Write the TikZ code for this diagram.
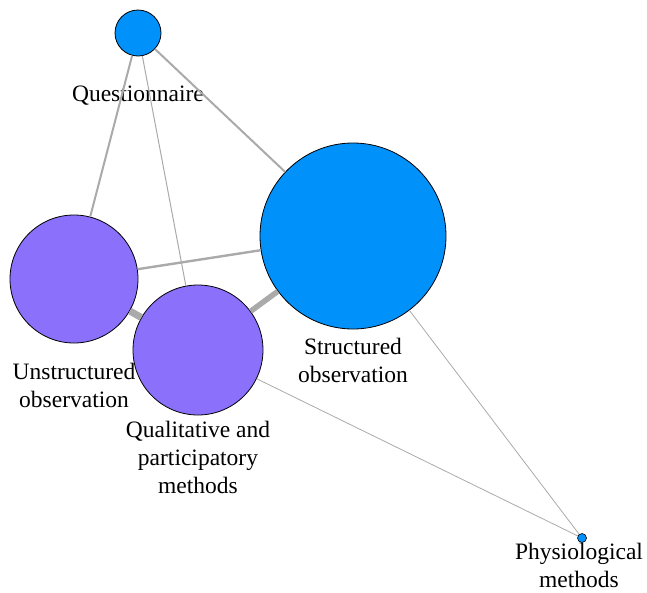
\documentclass[tikz,border=0pt]{standalone}
\usepackage{fontspec}
\setmainfont{Liberation Serif}
\usetikzlibrary{positioning}

\definecolor{blueNode}{RGB}{0,145,250}
\definecolor{purpleNode}{RGB}{138,112,250}
\definecolor{edgeGray}{RGB}{170,170,170}

\tikzstyle{blue} = [circle, draw=black, fill=blueNode, inner sep=0pt, line width=0.8pt]
\tikzstyle{purple} = [circle, draw=black, fill=purpleNode, inner sep=0pt, line width=0.8pt]
\tikzstyle{lbl} = [align=center, font=\fontsize{23.5}{28}\selectfont, inner sep=0pt, text=black]

\begin{document}
\begin{tikzpicture}[x=1pt,y=-1pt,node distance=63pt,edgeGray]
\useasboundingbox (0,0) rectangle (647,592);

\node[blue, minimum size=46pt] (quest) at (138,33) {};
\node[blue, minimum size=186pt] (struct) at (353,236) {};
\node[purple, minimum size=128pt] (unstruct) at (74,279) {};
\node[purple, minimum size=130pt] (qual) at (198,350) {};
\node[blue, minimum size=9pt, line width=0.6pt] (physio) at (582,538) {};

\node[lbl] (questText) [below of=quest] {Questionnaire};
\node[lbl] (structText) [below of=struct, yshift=-61pt] {Structured\\observation};
\node[lbl] (unstructText) [below of=unstruct, yshift=-43pt] {Unstructured\\observation};
\node[lbl] (qualText) [below of=qual, yshift=-44pt] {Qualitative and\\participatory\\methods};
\node[lbl] (physioText) [below of=physio, yshift=36pt, xshift=-3pt] {Physiological\\methods};

% edges
\draw[line width=2pt] (quest) -- (struct);
\draw[line width=2pt] (quest) -- (unstruct);
\draw[line width=1pt] (quest) -- (qual);
\draw[line width=2.4pt] (unstruct) -- (struct);
\draw[line width=7pt] (unstruct) -- (qual);
\draw[line width=5.5pt] (qual) -- (struct);
\draw[line width=0.8pt] (struct) -- (physio);
\draw[line width=0.8pt] (qual) -- (physio);

\end{tikzpicture}
\end{document}
